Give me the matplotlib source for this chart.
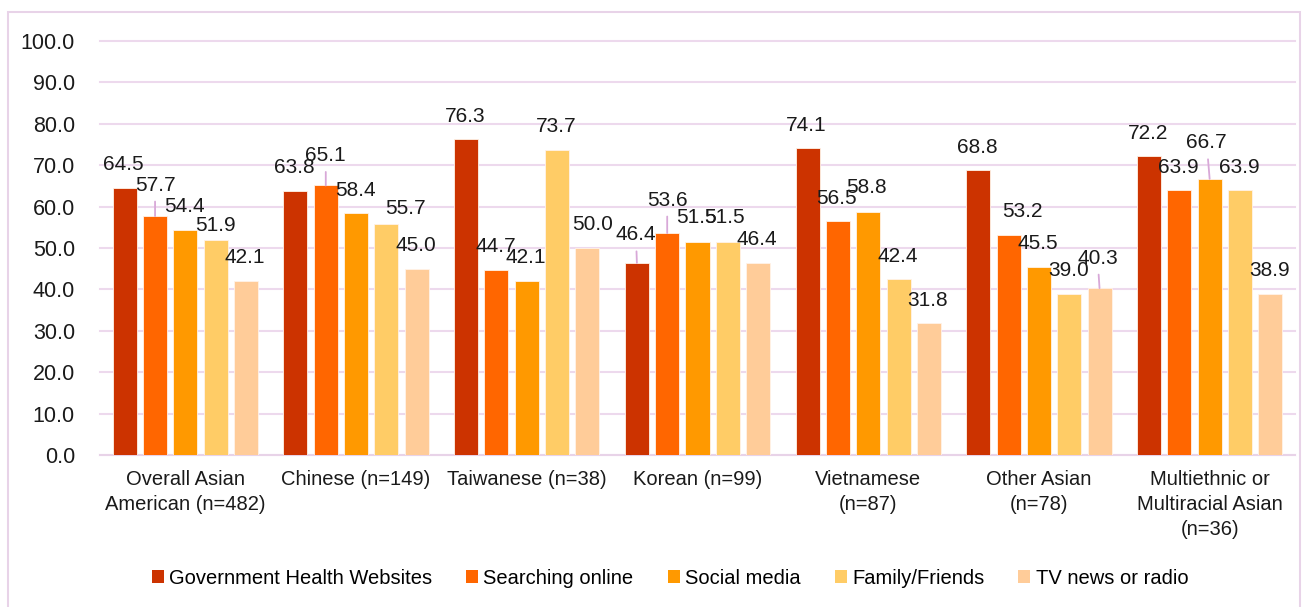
import matplotlib
matplotlib.use("Agg")
import matplotlib.pyplot as plt
from matplotlib.patches import Rectangle
import numpy as np

plt.rcParams['font.family'] = ['Liberation Sans', 'DejaVu Sans']

categories = ["Overall Asian\nAmerican (n=482)", "Chinese (n=149)", "Taiwanese (n=38)",
              "Korean (n=99)", "Vietnamese\n(n=87)", "Other Asian\n(n=78)",
              "Multiethnic or\nMultiracial Asian\n(n=36)"]
series_names = ["Government Health Websites", "Searching online", "Social media",
                "Family/Friends", "TV news or radio"]
gov_health = [64.5, 63.8, 76.3, 46.4, 74.1, 68.8, 72.2]
search_online = [57.7, 65.1, 44.7, 53.6, 56.5, 53.2, 63.9]
social_media = [54.4, 58.4, 42.1, 51.5, 58.8, 45.5, 66.7]
family_friends = [51.9, 55.7, 73.7, 51.5, 42.4, 39.0, 63.9]
tv_radio = [42.1, 45.0, 50.0, 46.4, 31.8, 40.3, 38.9]
yticks = [0, 10, 20, 30, 40, 50, 60, 70, 80, 90, 100]

series = [gov_health, search_online, social_media, family_friends, tv_radio]
colors = ["#CC3300", "#FF6600", "#FF9900", "#FFCC66", "#FFCC99"]

# label offsets in pixels (dx, dy) relative to bar top centre; default otherwise
default_off = (-1, 23)
label_off = {
    (1, 0): (0, 31), (3, 0): (0, 15),
    (1, 1): (0, 30), (3, 1): (19, 16),
    (4, 2): (5, 23),
    (0, 3): (-1, 28), (1, 3): (0, 33), (2, 3): (-1, 24), (3, 3): (-3, 24),
    (2, 4): (-2, 24),
    (1, 5): (14, 23), (4, 5): (-2, 30),
    (2, 6): (-3, 36),
}
leaders = {(1, 0), (1, 1), (0, 3), (1, 3), (4, 5), (2, 6)}

W, H = 1309, 607
fig = plt.figure(figsize=(W / 100, H / 100), dpi=100)
ax = fig.add_axes([100 / W, 152 / H, 1195 / W, 414 / H])

x = np.arange(len(categories))
pitch = 0.1775
width = 0.1406
for i, (vals, name, col) in enumerate(zip(series, series_names, colors)):
    pos = x + (i - 2) * pitch
    ax.bar(pos, vals, width=width, color=col, edgecolor="#FFF3E8", linewidth=0.6,
           label=name, zorder=3)
    for g, (px, v) in enumerate(zip(pos, vals)):
        dx, dy = label_off.get((i, g), default_off)
        kw = {}
        if (i, g) in leaders:
            kw["arrowprops"] = dict(arrowstyle="-", color="#D8A8D8", lw=1.3,
                                    shrinkA=3, shrinkB=0)
        ax.annotate(f"{v:.1f}", xy=(px, v), xytext=(dx, dy), textcoords="offset pixels",
                    ha="center", va="center", fontsize=15, color="#1a1a1a",
                    zorder=5, **kw)

ax.set_xlim(-0.5, len(categories) - 0.5)
ax.set_ylim(0, 100)
ax.set_yticks(yticks)
ax.set_yticklabels([f"{t:.1f}" for t in yticks], fontsize=15.5, color="#1a1a1a")
ax.set_xticks(x)
ax.set_xticklabels(categories, fontsize=14.5, color="#1a1a1a", linespacing=1.4)
ax.tick_params(axis="both", length=0)
ax.tick_params(axis="y", pad=18)
ax.tick_params(axis="x", pad=11)
for s in ["top", "right", "left"]:
    ax.spines[s].set_visible(False)
ax.spines["bottom"].set_color("#E8D3E8")
ax.spines["bottom"].set_linewidth(1.5)
ax.grid(axis="y", color="#EDD9ED", linewidth=1.5, zorder=0)
ax.set_axisbelow(True)
for gl in ax.get_ygridlines():
    gl.set_clip_on(False)

leg = fig.legend(loc="center", bbox_to_anchor=(670 / W, 1 - 578 / H), ncol=5,
                 frameon=False, fontsize=14.5, handlelength=0.6, handleheight=0.6,
                 handletextpad=0.25, columnspacing=1.7)
for h in leg.legend_handles:
    h.set_edgecolor("none")

fig.patches.append(Rectangle((8 / W, -0.01), (1300 - 8) / W, 1.01 - 12 / H,
                             transform=fig.transFigure, fill=False,
                             edgecolor="#E8D3E8", linewidth=1.5))

fig.savefig("out.png", dpi=100)
